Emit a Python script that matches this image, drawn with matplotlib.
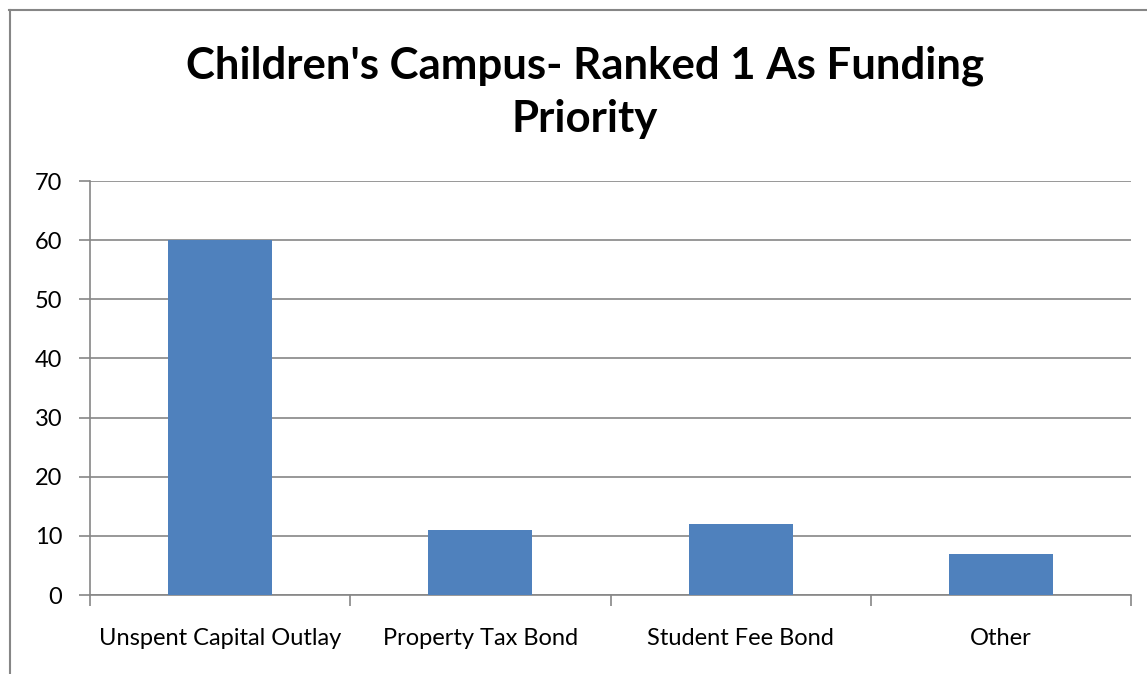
import matplotlib
matplotlib.use("Agg")
import matplotlib.pyplot as plt
from matplotlib.lines import Line2D

categories = ["Unspent Capital Outlay", "Property Tax Bond", "Student Fee Bond", "Other"]
values = [60, 11, 12, 7]
y_ticks = [0, 10, 20, 30, 40, 50, 60, 70]
title = "Children's Campus- Ranked 1 As Funding\nPriority"

plt.rcParams['font.family'] = ['Lato', 'DejaVu Sans']

W, H = 1147, 674
fig = plt.figure(figsize=(W / 100, H / 100), dpi=100)
ax = fig.add_axes([90 / W, 79 / H, 1041 / W, 414 / H])

grid_color = "#868686"
x = list(range(len(categories)))
ax.bar(x, values, width=0.4, color="#4F81BD", zorder=3)
ax.set_xlim(-0.5, len(categories) - 0.5)
ax.set_ylim(0, 70)
ax.set_yticks(y_ticks)
ax.set_yticklabels([str(v) for v in y_ticks], fontsize=17)
ax.yaxis.grid(True, color=grid_color, linewidth=1.2, zorder=0)
ax.set_xticks(x)
ax.set_xticklabels(categories, fontsize=17)
# category separators as minor ticks on the x axis
ax.set_xticks([i - 0.5 for i in range(len(categories) + 1)], minor=True)
ax.tick_params(axis='x', which='major', length=0, pad=24)
ax.tick_params(axis='x', which='minor', length=8, width=1.2, color=grid_color)
ax.tick_params(axis='y', length=8, width=1.2, color=grid_color, pad=12)
for side in ("top", "right"):
    ax.spines[side].set_visible(False)
for side in ("left", "bottom"):
    ax.spines[side].set_color(grid_color)
    ax.spines[side].set_linewidth(1.2)

fig.text(585 / W, 1 - 92 / H, title, ha="center", va="center",
         fontsize=31.5, fontweight="bold", linespacing=1.4)

# chart area border
fig.add_artist(Line2D([9.5 / W, 9.5 / W], [0, 1 - 10 / H], transform=fig.transFigure,
                      color=grid_color, linewidth=1.5))
fig.add_artist(Line2D([9 / W, 1], [1 - 10 / H, 1 - 10 / H], transform=fig.transFigure,
                      color=grid_color, linewidth=1.5))

fig.savefig("out.png", dpi=100)
